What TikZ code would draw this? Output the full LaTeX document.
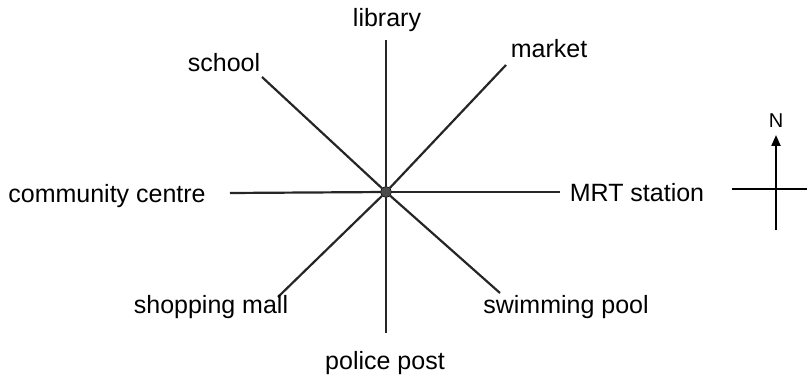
\documentclass[tikz,border=0pt]{standalone}
\usepackage{fontspec}
\setmainfont{Liberation Sans}
\usetikzlibrary{arrows.meta}
\tikzset{
  spoke/.style  = {line width=2.2pt, black!85},
  place/.style  = {inner sep=0pt, font=\fontsize{25}{29}\selectfont},
  hubdot/.style = {fill=black!70, draw=black, circle, inner sep=0pt, minimum size=11pt},
  north/.style  = {-{Triangle[length=11pt,width=9pt]}, line width=2.2pt},
}
\begin{document}
\begin{tikzpicture}[x=1pt,y=-1pt]
\useasboundingbox (0,0) rectangle (807,385);
% free ends of the eight spokes
\coordinate (n)  at (386,40);
\coordinate (s)  at (386,333);
\coordinate (w)  at (230,193);
\coordinate (e)  at (560,192);
\coordinate (nw) at (262,77);
\coordinate (ne) at (506,65);
\coordinate (sw) at (278,297);
\coordinate (se) at (500,293);
\node[hubdot] (hub) at (386,192) {};
\foreach \e in {n,s,w,e,nw,ne,sw,se}
  \draw[spoke] (hub) -- (\e);
\node[hubdot] at (hub) {};
% place names
\node[place] (library) at (387,20)  {library};
\node[place] (school)  at (224,63)  {school};
\node[place] (market)  at (549,49)  {market};
\node[place] (cc)      at (107,196) {community centre};
\node[place] (mrt)     at (637,193) {MRT station};
\node[place] (mall)    at (211,307) {shopping mall};
\node[place] (pool)    at (566,307) {swimming pool};
\node[place] (police)  at (385,363) {police post};
% compass
\coordinate (cbot) at (776,230);
\coordinate (ctop) at (776,135);
\coordinate (cl)   at (732,189);
\coordinate (cr)   at (807,189);
\draw[north] (cbot) -- (ctop);
\draw[line width=2.2pt] (cl) -- (cr);
\node[place,font=\fontsize{20}{24}\selectfont] (N) at (776,121) {N};
\end{tikzpicture}
\end{document}
